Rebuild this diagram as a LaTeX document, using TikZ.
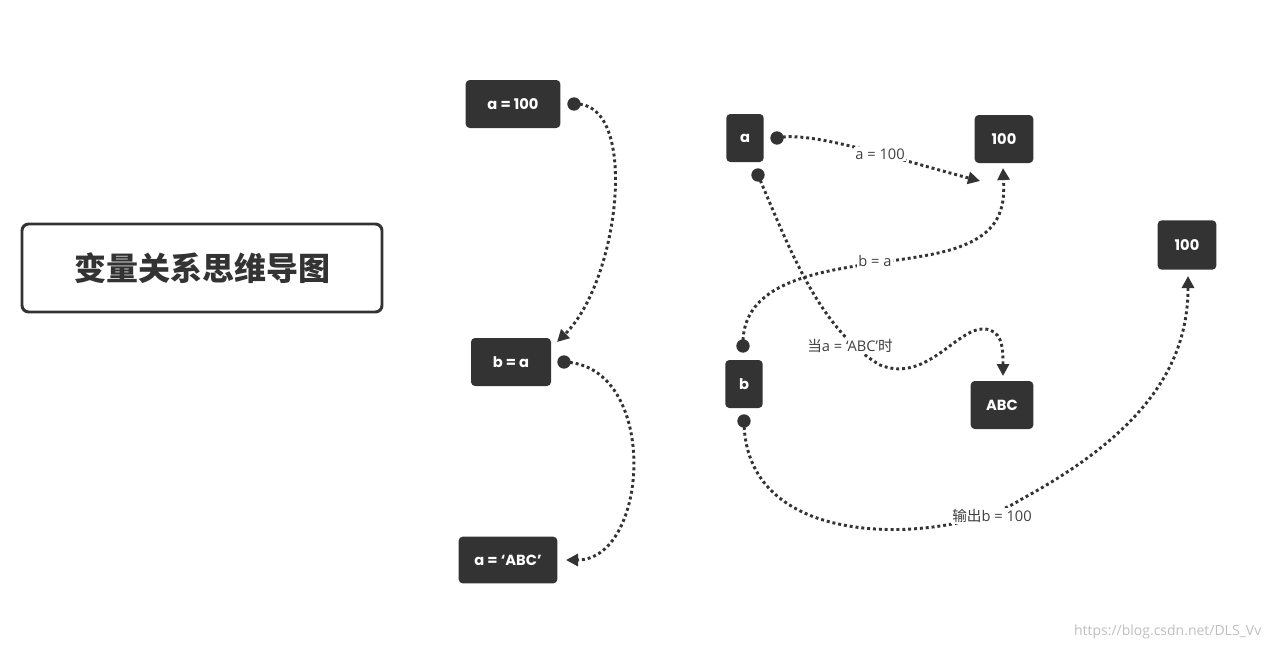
\documentclass[tikz,border=0pt]{standalone}
\usepackage{fontspec}
\setmainfont{Poppins}
\newfontfamily\cjk{Noto Sans CJK SC}
\newfontfamily\lab{Open Sans}
\usetikzlibrary{arrows.meta}
\begin{document}
\begin{tikzpicture}[x=0.75pt,y=-0.75pt,
  box/.style={fill=black!80,rounded corners=3pt,text=white,font=\fontsize{11}{12}\selectfont\bfseries,inner sep=0pt},
  lbl/.style={font=\lab\fontsize{11}{12}\selectfont,text=black!75,fill=white,inner sep=1pt},
  d/.style={draw=black!80,line width=2.2pt,dash pattern=on 2.2pt off 2.2pt,-{Triangle[length=9pt,width=9pt]}}]
\useasboundingbox (0,0) rectangle (1273,650);
\node[draw=black!80,line width=2.2pt,rounded corners=5pt,minimum width=270pt,minimum height=66pt,font=\cjk\bfseries\fontsize{24}{26}\selectfont,text=black!80] (t) at (202,268) {变量关系思维导图};
\node[box,minimum width=71pt,minimum height=36pt] (a1) at (513,104) {a = 100};
\node[box,minimum width=60pt,minimum height=36pt] (b1) at (511,362) {b = a};
\node[box,minimum width=74pt,minimum height=35pt] (a2) at (508,560) {a = ‘ABC’};
\node[box,minimum width=28pt,minimum height=36pt] (a) at (745,138) {a};
\node[box,minimum width=44pt,minimum height=36pt] (h1) at (1004,139) {100};
\node[box,minimum width=44pt,minimum height=37pt] (h2) at (1187,245) {100};
\node[box,minimum width=28pt,minimum height=36pt] (b) at (744,384) {b};
\node[box,minimum width=47pt,minimum height=36pt] (abc) at (1002,405) {ABC};
\coordinate (s1) at (574,104); \coordinate (e1) at (557,342);
\coordinate (s2) at (564,362); \coordinate (e2) at (566,560);
\coordinate (s3) at (777,138); \coordinate (e3) at (980,181);
\coordinate (s4) at (743,346); \coordinate (e4) at (1003,168);
\coordinate (s5) at (758,175); \coordinate (e5) at (1003,376);
\coordinate (s6) at (744,421); \coordinate (e6) at (1188,276);
\draw[d] (s1) .. controls (640,100) and (620,280) .. (e1);
\draw[d] (s2) .. controls (660,365) and (650,560) .. (e2);
\draw[d] (s3) .. controls (810,130) and (900,160) .. (e3);
\draw[d] (s4) .. controls (740,260) and (880,270) .. (950,250) .. controls (1000,235) and (1005,210) .. (e4);
\draw[d] (s5) .. controls (790,250) and (820,330) .. (880,365) .. controls (930,385) and (960,320) .. (990,330) .. controls (1003,335) and (1003,350) .. (e5);
\draw[d] (s6) .. controls (745,560) and (960,540) .. (1020,500) .. controls (1150,430) and (1188,360) .. (e6);
\foreach \p in {s1,s2,s3,s4,s5,s6} \fill[black!80] (\p) circle (5pt);
\node[lbl] (l3) at (880,154) {a = 100};
\node[lbl] (l4) at (875,261) {b = a};
\node[lbl] (l5) at (850,346) {{\cjk 当}a = ‘ABC’{\cjk 时}};
\node[lbl] (l6) at (992,516) {{\cjk 输出}b = 100};
\node[font=\lab\fontsize{10.5}{12}\selectfont,text=black!25,anchor=east] (w) at (1266,632) {https://blog.csdn.net/DLS\_Vv};
\end{tikzpicture}
\end{document}
